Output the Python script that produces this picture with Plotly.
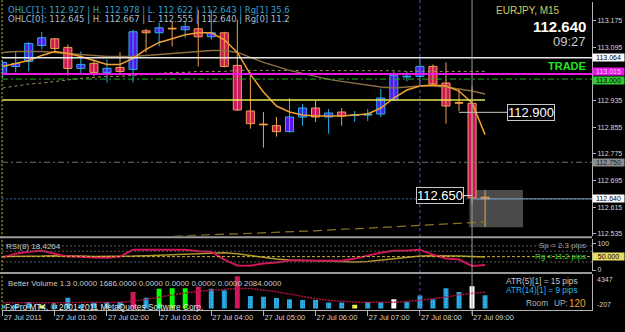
import plotly.graph_objects as go

W, H = 625, 332
FONT = "Liberation Sans, Arial, sans-serif"
MT_FONT = "DejaVu Sans, Verdana, sans-serif"

# ---------------- data (EURJPY M15, 27 Jul 2011 00:00 .. 09:15) ----------------
bar_index = list(range(38))
opens = [113.017, 113.038, 113.053, 113.101, 113.121, 113.095, 113.032, 113.047, 113.020, 113.035,
         113.029, 113.145, 113.139, 113.152, 113.148, 113.151, 113.127, 113.139, 113.041, 112.904,
         112.864, 112.860, 112.842, 112.886, 112.913, 112.886, 112.901, 112.891, 112.892, 112.895,
         112.937, 113.007, 113.008, 113.038, 112.988, 112.929, 112.927, 112.645]
highs = [113.055, 113.083, 113.110, 113.142, 113.121, 113.104, 113.083, 113.059, 113.059, 113.080,
         113.148, 113.151, 113.169, 113.172, 113.172, 113.208, 113.208, 113.142, 113.178, 113.020,
         112.901, 112.886, 112.943, 112.925, 112.934, 112.910, 112.913, 112.904, 112.910, 112.970,
         113.023, 113.023, 113.062, 113.044, 113.050, 112.970, 112.978, 112.667]
lows = [113.005, 113.020, 113.023, 113.089, 113.080, 113.011, 113.017, 113.008, 112.990, 113.011,
        112.990, 113.080, 113.098, 113.098, 113.124, 113.038, 113.118, 113.035, 112.904, 112.851,
        112.794, 112.827, 112.840, 112.860, 112.871, 112.836, 112.860, 112.871, 112.874, 112.886,
        112.937, 112.993, 112.979, 112.979, 112.866, 112.904, 112.622, 112.555]
closes = [113.050, 113.047, 113.107, 113.124, 113.092, 113.032, 113.044, 113.020, 113.032, 113.023,
          113.142, 113.139, 113.154, 113.151, 113.157, 113.127, 113.139, 113.038, 112.907, 112.866,
          112.863, 112.842, 112.886, 112.913, 112.886, 112.898, 112.889, 112.892, 112.895, 112.943,
          113.011, 113.008, 113.038, 112.985, 112.919, 112.928, 112.643, 112.640]

ma_fast = [113.038, 113.047, 113.056, 113.071, 113.083, 113.077, 113.068, 113.056, 113.044, 113.044,
           113.062, 113.089, 113.110, 113.121, 113.133, 113.139, 113.139, 113.118, 113.080, 113.014,
           112.961, 112.919, 112.901, 112.892, 112.889, 112.889, 112.889, 112.892, 112.895, 112.913,
           112.943, 112.967, 112.979, 112.982, 112.979, 112.964, 112.928, 112.833]
ma_mid = [113.080, 113.083, 113.083, 113.083, 113.080, 113.077, 113.074, 113.071, 113.068, 113.068,
          113.068, 113.071, 113.074, 113.077, 113.080, 113.083, 113.086, 113.086, 113.080, 113.065,
          113.050, 113.038, 113.026, 113.017, 113.008, 112.999, 112.993, 112.987, 112.982, 112.976,
          112.973, 112.976, 112.979, 112.979, 112.976, 112.970, 112.964, 112.955]
ma_slow = [112.973, 112.979, 112.985, 112.988, 112.993, 112.999, 113.002, 113.005, 113.008, 113.008,
           113.011, 113.014, 113.017, 113.020, 113.020, 113.023, 113.023, 113.023, 113.026, 113.026,
           113.026, 113.027, 113.026, 113.026, 113.025, 113.026, 113.026, 113.025, 113.026, 113.026,
           113.025, 113.023, 113.023, 113.023, 113.022, 113.023, 113.023, 113.023]
ma_long_first_bar = 12
ma_long = [112.526, 112.528, 112.529, 112.531, 112.532, 112.534, 112.535, 112.537, 112.538, 112.540,
           112.541, 112.543, 112.544, 112.547, 112.549, 112.550, 112.552, 112.553, 112.556, 112.557,
           112.559, 112.562, 112.563, 112.565, 112.568, 112.571]

rsi_vals = [46.3, 61.1, 68.5, 72.2, 61.1, 50.0, 49.5, 46.3, 46.0, 50.0,
            75.9, 76.3, 75.9, 76.2, 75.6, 70.4, 68.5, 38.9, 16.7, 16.2,
            24.1, 27.8, 35.2, 35.6, 34.8, 35.2, 35.0, 42.6, 53.7, 64.8,
            72.2, 72.6, 75.9, 57.4, 42.6, 38.9, 14.9, 18.4264]
rsi_signal = [50.0, 50.0, 50.0, 51.9, 53.7, 53.7, 51.9, 50.0, 50.0, 50.0,
              51.9, 53.7, 55.6, 57.4, 59.3, 61.1, 63.0, 64.8, 61.1, 53.7,
              46.3, 40.7, 37.0, 35.2, 33.3, 31.5, 29.6, 29.6, 31.5, 37.0,
              42.6, 48.1, 51.9, 53.7, 53.7, 51.9, 50.0, 48.1]
rsi_levels = [90, 70, 30]
rsi_mid_level = 50
rsi_axis_ticks = [0, 100]

volumes = [420, 380, 840, 420, 460, 1390, 500, 760, 840, 840,
           2100, 1390, 2520, 2600, 2600, 2770, 2520, 2350, 4120, 1600,
           1510, 1340, 1180, 1090, 1090, 760, 760, 500, 840, 840,
           1180, 840, 1680, 1180, 2600, 2100, 2860, 1686]
vol_class = ['normal', 'normal', 'normal', 'low', 'normal', 'normal', 'normal', 'normal', 'normal', 'normal',
             'climax_up', 'normal', 'churn', 'churn', 'churn', 'climax_up', 'normal', 'normal', 'climax_up', 'normal',
             'normal', 'normal', 'normal', 'normal', 'normal', 'normal', 'normal', 'low', 'normal', 'normal',
             'climax_down', 'normal', 'normal', 'normal', 'normal', 'normal', 'climax_down', 'normal']
vol_avg = [750, 740, 760, 750, 740, 760, 750, 740, 760, 800,
           940, 1150, 1450, 1750, 2000, 2200, 2330, 2420, 2560, 2560,
           2400, 2150, 1850, 1550, 1250, 1050, 900, 820, 800, 800,
           820, 900, 1050, 1250, 1450, 1750, 1950, 2084]
vol_scale_min, vol_scale_max = -207, 4347

time_tick_bars = [0, 4, 8, 12, 16, 20, 24, 28, 32, 36]
time_tick_labels = ['27 Jul 2011', '27 Jul 01:00', '27 Jul 02:00', '27 Jul 03:00', '27 Jul 04:00',
                    '27 Jul 05:00', '27 Jul 06:00', '27 Jul 07:00', '27 Jul 08:00', '27 Jul 09:00']
price_ticks = [113.175, 113.095, 113.015, 112.935, 112.855, 112.775, 112.695, 112.615, 112.535]

level_white = 113.064
level_magenta = 113.015
level_green = 113.000
level_yellow = 112.937
level_gray = 112.750
bid_price = 112.640
label_hi = 112.900
label_lo = 112.650
spread_pips = 2.3
atr5_pips, atr14_pips = 15, 9
room_up = 120
symbol_text = 'EURJPY, M15'
clock_text = '09:27'
vline_bars = [32, 36]

# ---------------- layout helpers ----------------
def py(px):
    return 1 - px / H

def pxx(px):
    return px / W

XR = [-0.05, 45.2]
UP_FILL, UP_EDGE = '#5518E8', '#2CB0F0'
DN_FILL, DN_EDGE = '#CC1660', '#F0A050'
AX = '#B4B4B4'

fig = go.Figure()

# candles: wicks
up = [i for i in bar_index if closes[i] > opens[i]]
dn = [i for i in bar_index if closes[i] <= opens[i]]
for idxs, col in ((up, UP_EDGE), (dn, DN_EDGE)):
    xs, ys = [], []
    for i in idxs:
        xs += [i, i, None]
        ys += [lows[i], highs[i], None]
    fig.add_trace(go.Scatter(x=xs, y=ys, mode='lines', line=dict(color=col, width=1),
                             xaxis='x', yaxis='y', hoverinfo='skip'))
# candles: bodies
for idxs, fill, edge in ((up, UP_FILL, UP_EDGE), (dn, DN_FILL, DN_EDGE)):
    fig.add_trace(go.Bar(x=idxs, base=[min(opens[i], closes[i]) for i in idxs],
                         y=[abs(closes[i] - opens[i]) for i in idxs], width=0.62,
                         marker=dict(color=fill, line=dict(color=edge, width=1)),
                         xaxis='x', yaxis='y', hoverinfo='skip'))
# doji crosses
for idxs, col in ((up, UP_EDGE), (dn, '#F0A040')):
    xs, ys = [], []
    for i in idxs:
        if abs(closes[i] - opens[i]) < 0.006:
            m = (opens[i] + closes[i]) / 2
            xs += [i - 0.31, i + 0.31, None]
            ys += [m, m, None]
    fig.add_trace(go.Scatter(x=xs, y=ys, mode='lines', line=dict(color=col, width=1.5),
                             xaxis='x', yaxis='y', hoverinfo='skip'))

# moving averages
fig.add_trace(go.Scatter(x=bar_index, y=ma_slow, mode='lines',
                         line=dict(color='#A08C5E', width=1, dash='3px,3px'), xaxis='x', yaxis='y'))
fig.add_trace(go.Scatter(x=bar_index[ma_long_first_bar:], y=ma_long, mode='lines',
                         line=dict(color='#8C7424', width=1.2, dash='9px,5px'), xaxis='x', yaxis='y'))
fig.add_trace(go.Scatter(x=bar_index, y=ma_mid, mode='lines',
                         line=dict(color='#8C6E40', width=1.5), xaxis='x', yaxis='y'))
fig.add_trace(go.Scatter(x=bar_index, y=ma_fast, mode='lines',
                         line=dict(color='#F0A030', width=1.5), xaxis='x', yaxis='y'))

# RSI panel
fig.add_trace(go.Scatter(x=bar_index, y=rsi_signal, mode='lines',
                         line=dict(color='#B49628', width=1.5), xaxis='x', yaxis='y2'))
fig.add_trace(go.Scatter(x=bar_index, y=rsi_vals, mode='lines',
                         line=dict(color='#D2145A', width=2), xaxis='x', yaxis='y2'))

# Volume panel
vol_style = {
    'normal': dict(color='#2CB4EC', pattern=dict(shape='.', fgcolor='#0C5C8C', bgcolor='#2CB4EC', size=3, solidity=0.35)),
    'climax_up': dict(color='#D2145A'),
    'climax_down': dict(color='#FFFFFF'),
    'churn': dict(color='#00FF00'),
    'low': dict(color='#F0F050'),
}
for cls, st in vol_style.items():
    ids = [i for i in bar_index if vol_class[i] == cls]
    fig.add_trace(go.Bar(x=ids, y=[volumes[i] for i in ids], width=0.38,
                         marker=dict(**st, line=dict(width=0)), xaxis='x', yaxis='y3', hoverinfo='skip'))
fig.add_trace(go.Scatter(x=bar_index, y=vol_avg, mode='lines',
                         line=dict(color='#B4143C', width=1.5, dash='2px,1px'), xaxis='x', yaxis='y3'))

# ---------------- shapes ----------------
shapes = []
# range box of current bar
shapes.append(dict(type='rect', xref='x', yref='y', x0=35.8, x1=39.9, y0=lows[-1], y1=highs[-1],
                   fillcolor='#4B4B4B', line=dict(width=0), layer='below'))
def hline(y, color, width=1, dash='solid', yref='y', x0=0, x1=1, xref='x domain'):
    shapes.append(dict(type='line', xref=xref, yref=yref, x0=x0, x1=x1, y0=y, y1=y,
                       line=dict(color=color, width=width, dash=dash), layer='above'))
hline(level_white, '#E6E6E6', 1.5)
hline(level_magenta, '#E619E6', 2)
hline(level_green, '#19B419', 1, '6px,3px,2px,3px')
hline(level_gray, '#6E6E6E', 1, '6px,3px,2px,3px')
hline(bid_price, '#2D6496', 1, '2px,2px')
hline(bid_price, '#8CA5BE', 1, 'solid', x0=35.9, x1=XR[1], xref='x')
hline(level_yellow, '#E6E650', 1.5, 'solid', x0=XR[0], x1=37, xref='x')
hline(label_hi, '#C8C8C8', 1, 'solid', x0=35.0, x1=38.7, xref='x')
hline(label_lo, '#E6E6E6', 1, 'solid', x0=35.35, x1=36.0, xref='x')
for lv in rsi_levels:
    hline(lv, '#5A5A5A', 1, '2px,2px', yref='y2')
hline(rsi_mid_level, '#C8B43C', 1, '3px,2px', yref='y2')
# vertical lines
shapes.append(dict(type='line', xref='x', yref='paper', x0=vline_bars[0], x1=vline_bars[0],
                   y0=py(318), y1=1, line=dict(color='#8A3CD2', width=1, dash='3px,3px'), layer='above'))
shapes.append(dict(type='line', xref='x', yref='paper', x0=vline_bars[1], x1=vline_bars[1],
                   y0=py(318), y1=1, line=dict(color='#9A9A9A', width=1), layer='above'))
shapes.append(dict(type='line', xref='paper', yref='paper', x0=pxx(2), x1=pxx(2), y0=py(313), y1=1,
                   line=dict(color='#C8C832', width=1, dash='2px,2px'), layer='above'))
# panel separators
for yy in (239.5, 275.5):
    shapes.append(dict(type='line', xref='paper', yref='paper', x0=0, x1=pxx(592), y0=py(yy), y1=py(yy),
                       line=dict(color='#9A9A9A', width=2), layer='above'))

# ---------------- annotations ----------------
ann = []
def txt(x, y, s, size=8, color='#C8C8C8', xa='left', ya='middle', bold=False, family=FONT, **kw):
    ann.append(dict(x=x, y=y, xref=kw.pop('xref', 'paper'), yref=kw.pop('yref', 'paper'),
                    text=('<b>%s</b>' % s) if bold else s, showarrow=False, xanchor=xa, yanchor=ya,
                    font=dict(family=family, size=size, color=color), **kw))

o1, h1, l1, c1 = opens[-2], highs[-2], lows[-2], closes[-2]
o0, h0, l0, c0 = opens[-1], highs[-1], lows[-1], closes[-1]
txt(pxx(6), py(10), 'OHLC[1]: %.3f | H. %.3f | L. %.3f | %.3f | Rg[1] %.1f' % (o1, h1, l1, c1, (h1 - l1) * 100),
    8.5, '#36A0CC', family=MT_FONT)
txt(pxx(6), py(19.5), 'OHLC[0]: %.3f | H. %.3f | L. %.3f | %.3f | Rg[0] %.1f' % (o0, h0, l0, c0, (h0 - l0) * 100),
    8.5, '#A6BCD2', family=MT_FONT)
txt(pxx(562), py(11), symbol_text, 10, '#CDCD5F', xa='right')
txt(pxx(588), py(27), '%.3f' % c0, 15, '#FFFFFF', xa='right', bold=True)
txt(pxx(588), py(42), clock_text, 13, '#C8C8C8', xa='right')
txt(pxx(588), py(67), 'TRADE', 11, '#1EE61E', xa='right', bold=True)

def pbox(y, bg, fg, yref='y', text=None, yshift=0):
    ann.append(dict(x=1, y=y, xref='paper', yref=yref, text=text or ('%.3f' % y), showarrow=False,
                    xanchor='right', yanchor='middle', bgcolor=bg, borderpad=0, width=31, height=7,
                    yshift=yshift, font=dict(family=FONT, size=7, color=fg)))
pbox(level_white, '#FFFFFF', '#000000')
pbox(level_green, '#32C832', '#000000', yshift=-1.5)
pbox(level_magenta, '#E619E6', '#F0C8F0', yshift=2.5)
pbox(level_gray, '#8C8C8C', '#202020')
pbox(bid_price, '#FFFFFF', '#000000')
pbox(rsi_mid_level, '#E6DC64', '#000000', yref='y2', text='%.3f' % rsi_mid_level)

for val, xa, xpos in ((label_hi, 'left', 38.7), (label_lo, 'right', 35.35)):
    ann.append(dict(x=xpos, y=val, xref='x', yref='y', text='%.3f' % val, showarrow=False,
                    xanchor=xa, yanchor='middle', bgcolor='#000000', bordercolor='#C8C8C8',
                    borderwidth=1, borderpad=0, font=dict(family=FONT, size=13, color='#FFFFFF')))

# RSI texts
txt(pxx(4), py(248.5), 'RSI(8) %.4f' % rsi_vals[-1], 8, '#C8C8C8')
txt(pxx(588), py(248), 'Sp = %.1f pips' % spread_pips, 8, '#A0A0A0', xa='right')
txt(pxx(588), py(258.5), 'Rg = %.1f pips' % ((h0 - l0) * 100), 8, '#32CD32', xa='right')

# Volume texts
bv = [0.0, volumes[-1], 0.0, 0.0, 0.0, 0.0, vol_avg[-1]]
txt(pxx(6), py(286), 'Better Volume 1.3 ' + ' '.join('%.4f' % v for v in bv), 7.9, '#C8C8C8')
txt(pxx(580), py(283.5), 'ATR(5)[1] = %d pips' % atr5_pips, 8.3, '#C8C8C8', xa='right')
txt(pxx(580), py(292.5), 'ATR(14)[1] = %d pips' % atr14_pips, 8.3, '#28B4E6', xa='right')
txt(pxx(524), py(306), 'Room', 8.3, '#B4B4B4')
txt(pxx(552), py(306), 'UP:', 8.3, '#B4B4B4')
txt(pxx(567), py(306), str(room_up), 10, '#F0A030')
txt(pxx(595), vol_scale_max, str(vol_scale_max), 7, '#D2D2D2', ya='top', yref='y3')
txt(pxx(595), vol_scale_min, str(vol_scale_min), 7, '#D2D2D2', ya='bottom', yref='y3')
txt(pxx(3), py(310), 'FxPro MT4, \u00a9 2001-2011 MetaQuotes Software Corp.', 8.3, '#E6E6E6')

# ---------------- layout ----------------
fig.update_layout(
    width=W, height=H, margin=dict(l=0, r=0, t=0, b=0),
    paper_bgcolor='#000000', plot_bgcolor='#000000', showlegend=False,
    barmode='overlay', hovermode=False,
    font=dict(family=FONT, size=7, color='#D2D2D2'),
    xaxis=dict(domain=[pxx(2), pxx(592)], range=XR, anchor='y3', showgrid=False, zeroline=False,
               showline=True, linecolor=AX, linewidth=1, ticks='outside', ticklen=5, tickcolor=AX,
               tickvals=time_tick_bars, ticktext=time_tick_labels, ticklabelposition='outside right',
               tickfont=dict(size=7.5, color='#D2D2D2')),
    yaxis=dict(domain=[py(238), py(2)], range=[112.529, 113.2315], side='right', anchor='x',
               showgrid=False, zeroline=False, showline=True, linecolor=AX, ticks='outside', ticklen=3,
               tickcolor=AX, tickvals=price_ticks,
               ticktext=[('' if p == level_magenta else '%.3f' % p) for p in price_ticks],
               tickfont=dict(size=7, color='#D8D8D8')),
    yaxis2=dict(domain=[py(273), py(241)], range=[-2, 116.5], side='right', anchor='x',
                showgrid=False, zeroline=False, showline=True, linecolor=AX, ticks='outside', ticklen=3,
                tickcolor=AX, tickvals=rsi_axis_ticks, tickfont=dict(size=7, color='#D8D8D8')),
    yaxis3=dict(domain=[py(313), py(277)], range=[vol_scale_min, vol_scale_max], side='right', anchor='x',
                showgrid=False, zeroline=False, showline=True, linecolor=AX, showticklabels=False),
    shapes=shapes, annotations=ann,
)

fig.write_html('out.html')
